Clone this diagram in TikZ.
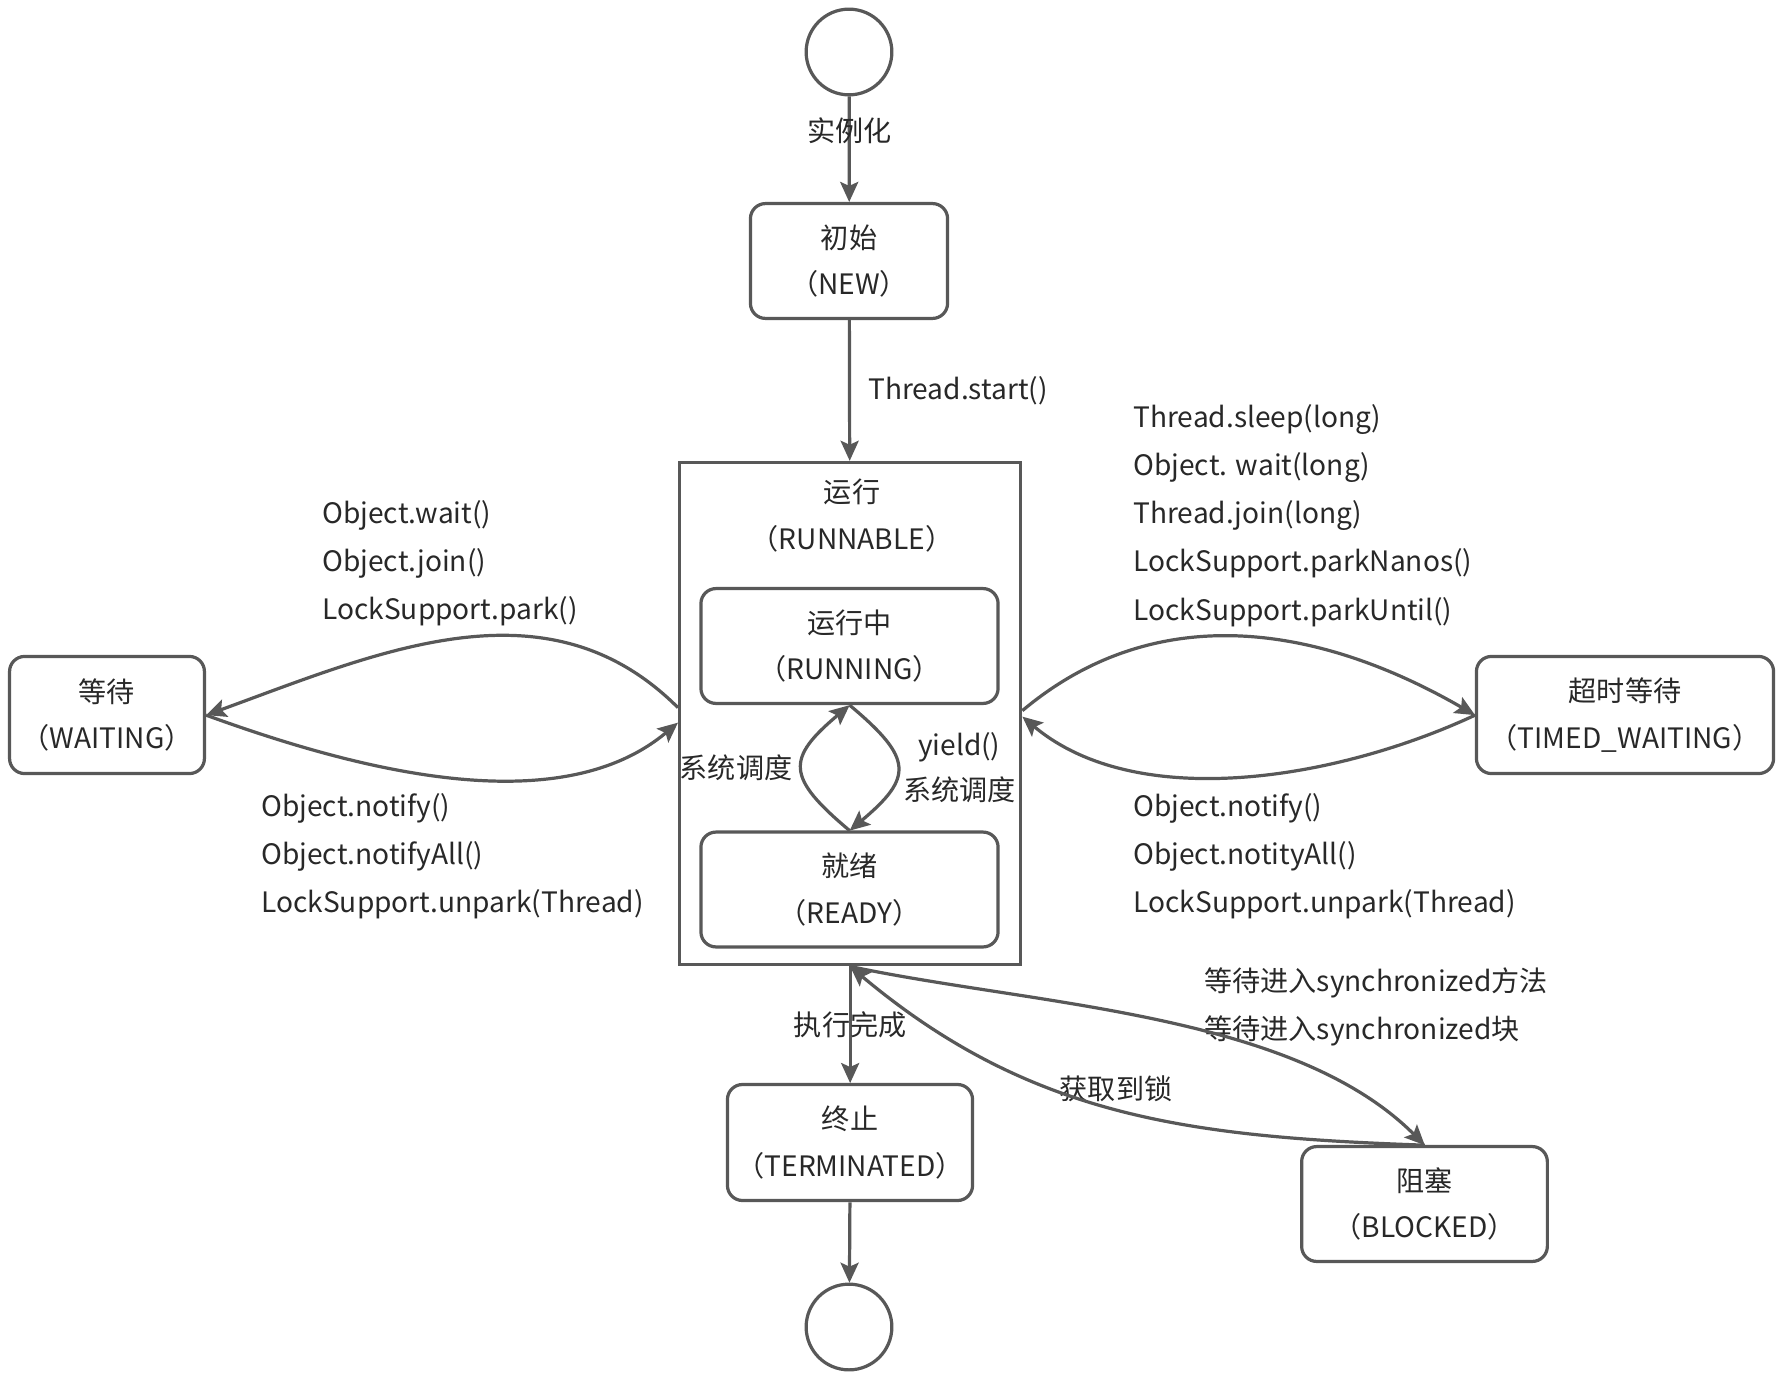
\documentclass[tikz,border=0pt]{standalone}
\usepackage{fontspec}
\setmainfont{Noto Sans CJK SC}
\usetikzlibrary{arrows.meta}
\definecolor{linec}{RGB}{88,88,88}
\definecolor{textc}{RGB}{40,40,40}
\tikzset{
  state/.style={draw=linec, line width=1.6pt, rounded corners=7.5pt, align=center, text=textc, font=\fontsize{14}{23}\selectfont},
  pseudo/.style={circle, draw=linec, line width=1.6pt, minimum size=1.5cm, inner sep=0pt},
  trans/.style={draw=linec, line width=1.6pt, -{Stealth[length=10pt,width=9pt,inset=2pt]}},
  lbl/.style={text=textc, font=\fontsize{14}{24}\selectfont, inner sep=0pt},
}
\begin{document}
\begin{tikzpicture}[scale=1.75]
  \useasboundingbox (0,0) rectangle (17.86,-13.79);
  % states
  \node[pseudo] (init) at (8.49,-0.52) {};
  \node[state, minimum width=3.45cm, minimum height=2.01cm] (new) at (8.49,-2.61) {初始\\（NEW）};
  \node[draw=linec, line width=1.6pt, minimum width=5.97cm, minimum height=8.79cm] (runnable) at (8.50,-7.135) {};
  \node[lbl, align=center, font=\fontsize{14}{23.5}\selectfont] (runtxt) at (8.52,-5.155) {运行\\（RUNNABLE）};
  \node[state, minimum width=5.2cm, minimum height=2.01cm] (running) at (8.495,-6.46) {运行中\\（RUNNING）};
  \node[state, minimum width=5.2cm, minimum height=2.01cm] (ready) at (8.495,-8.895) {就绪\\（READY）};
  \node[state, minimum width=3.41cm, minimum height=2.05cm] (waiting) at (1.07,-7.15) {等待\\（WAITING）};
  \node[state, minimum width=5.2cm, minimum height=2.05cm] (timed) at (16.25,-7.15) {超时等待\\（TIMED\_WAITING）};
  \node[state, minimum width=4.29cm, minimum height=2.03cm] (term) at (8.50,-11.425) {终止\\（TERMINATED）};
  \node[state, minimum width=4.3cm, minimum height=2.01cm] (blocked) at (14.245,-12.04) {阻塞\\（BLOCKED）};
  \node[pseudo] (final) at (8.49,-13.27) {};

  % labels
  \node[lbl, align=left, anchor=west] (waitin) at (3.22,-5.63) {Object.wait()\\Object.join()\\LockSupport.park()};
  \node[lbl, align=left, anchor=west] (waitout) at (2.61,-8.56) {Object.notify()\\Object.notifyAll()\\LockSupport.unpark(Thread)};
  \node[lbl, align=left, anchor=west] (timedin) at (11.33,-5.155) {Thread.sleep(long)\\Object. wait(long)\\Thread.join(long)\\LockSupport.parkNanos()\\LockSupport.parkUntil()};
  \node[lbl, align=left, anchor=west] (timedout) at (11.33,-8.56) {Object.notify()\\Object.notityAll()\\LockSupport.unpark(Thread)};
  \node[lbl, align=left, anchor=west] (blockin) at (12.04,-10.07) {等待进入synchronized方法\\等待进入synchronized块};
  \node[lbl] (lockgot) at (11.16,-10.89) {获取到锁};

  % transitions
  \draw[trans] (init) -- (new) node[lbl, pos=0.32] (inst) {实例化};
  \draw[trans] (new) -- (runnable) node[lbl, midway, right=8.5pt] (tstart) {Thread.start()};
  \draw[trans] (runnable.178) to[out=135,in=20] (waiting.east);
  \draw[trans] (waiting.east) to[out=-20,in=-140,looseness=0.85] (runnable.183);
  \draw[trans] (runnable.1) to[out=40,in=150] (timed.west);
  \draw[trans] (timed.west) to[out=-155,in=-40,looseness=0.85] (runnable.-1);
  \draw[trans] (ready.north) to[out=140,in=-140,looseness=1.7] node[lbl, left=4pt] (sched1) {系统调度} (running.south);
  \draw[trans] (running.south) to[out=-40,in=40,looseness=1.7] node[lbl, right=2pt, align=center, font=\fontsize{14}{22.5}\selectfont] (sched2) {yield()\\系统调度} (ready.north);
  \draw[trans] (runnable.south) to[out=-12,in=135,looseness=0.8] (blocked.north);
  \draw[trans] (blocked.north) to[out=178,in=-40] (runnable.south);
  \draw[trans] (runnable.south) -- (term.north) node[lbl, midway] (done) {执行完成};
  \draw[trans] (term) -- (final);
\end{tikzpicture}
\end{document}
